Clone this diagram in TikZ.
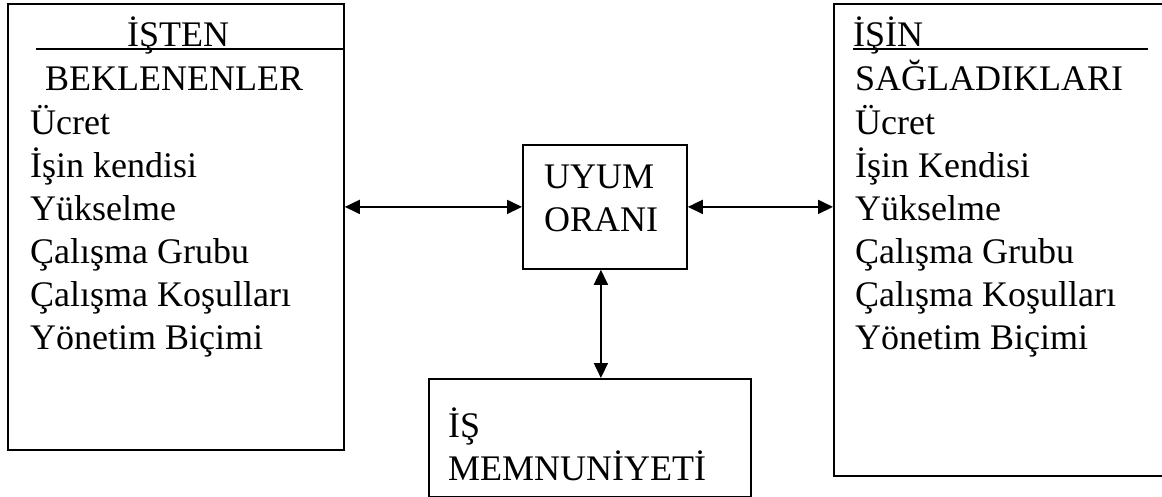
\documentclass[tikz,border=0pt]{standalone}
\usepackage{fontspec}
\setmainfont{Liberation Serif}
\usetikzlibrary{arrows.meta}
\tikzset{
  box/.style={draw, line width=1.8pt, rectangle, inner sep=0pt, anchor=north west},
  txt/.style={anchor=base west, inner sep=0pt, font=\fontsize{36}{43}\selectfont},
  link/.style={line width=1.8pt, {Triangle[length=15pt,width=14pt]}-{Triangle[length=15pt,width=14pt]}},
  uline/.style={line width=1.5pt}
}
\begin{document}
\begin{tikzpicture}[x=1pt,y=-1pt]
\useasboundingbox (0,0) rectangle (1162,497);
% boxes
\node[box, minimum width=336pt, minimum height=446pt] (lbox) at (7,3) {};
\node[box, minimum width=340pt, minimum height=472pt] (rbox) at (833,3) {};
\node[box, minimum width=164pt, minimum height=124pt] (uyum) at (522,144) {};
\node[box, minimum width=322pt, minimum height=118pt] (memn) at (428,378) {};
% left box text
\node[txt] (lh1) at (127,47) {İŞTEN};
\draw[uline] (36,49) -- (lbox.east |- 0,49);
\node[txt] (lh2) at (45,91) {BEKLENENLER};
\foreach \t [count=\i] in {Ücret,İşin kendisi,Yükselme,Çalışma Grubu,Çalışma Koşulları,Yönetim Biçimi}
  \node[txt] (l\i) at (30,{91+43.1*\i}) {\t};
% right box text
\node[txt] (rh1) at (853,47) {İŞİN};
\draw[uline] (853,49) -- (1148,49);
\node[txt] (rh2) at (855,91) {SAĞLADIKLARI};
\foreach \t [count=\i] in {Ücret,İşin Kendisi,Yükselme,Çalışma Grubu,Çalışma Koşulları,Yönetim Biçimi}
  \node[txt] (r\i) at (855,{91+43.1*\i}) {\t};
% centre texts
\node[txt] (u1) at (544,189) {UYUM};
\node[txt] (u2) at (544,232) {ORANI};
\node[txt] (m1) at (448,437) {İŞ};
\node[txt] (m2) at (448,480) {MEMNUNİYETİ};
% connectors
\draw[link] (lbox.east |- uyum.west) -- (uyum.west);
\draw[link] (uyum.east) -- (rbox.west |- uyum.east);
\draw[link] ([xshift=-4pt]uyum.south) -- ([xshift=-4pt]uyum.south |- memn.north);
\end{tikzpicture}
\end{document}
